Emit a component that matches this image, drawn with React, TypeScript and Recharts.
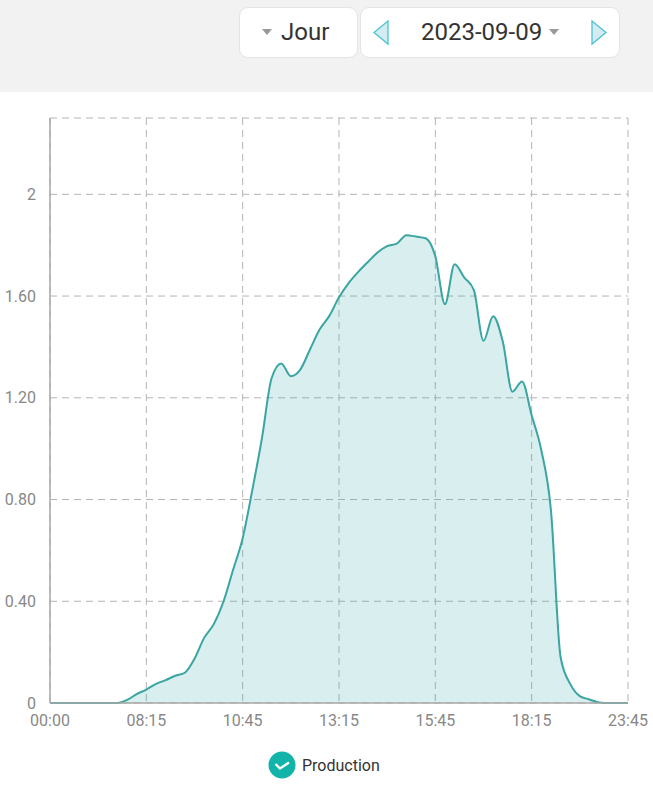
import React from 'react';
import { AreaChart, Area, XAxis, YAxis, CartesianGrid, Legend } from 'recharts';

const TIMES = [
  '00:00', '06:00', '06:15', '06:30', '06:45', '07:00', '07:15', '07:30', '07:45', '08:00',
  '08:15', '08:30', '08:45', '09:00', '09:15', '09:30', '09:45', '10:00', '10:15', '10:30',
  '10:45', '11:00', '11:15', '11:30', '11:45', '12:00', '12:15', '12:30', '12:45', '13:00',
  '13:15', '13:30', '13:45', '14:00', '14:15', '14:30', '14:45', '15:00', '15:15', '15:30',
  '15:45', '16:00', '16:15', '16:30', '16:45', '17:00', '17:15', '17:30', '17:45', '18:00',
  '18:15', '18:30', '18:45', '19:00', '19:15', '19:30', '19:45', '20:00', '20:15', '20:30',
  '23:45',
];

const PRODUCTION = [
  0, 0, 0, 0, 0, 0, 0, 0, 0.012, 0.035,
  0.053, 0.075, 0.09, 0.107, 0.119, 0.174, 0.256, 0.31, 0.398, 0.523,
  0.648, 0.837, 1.041, 1.277, 1.335, 1.285, 1.312, 1.391, 1.469, 1.522,
  1.595, 1.651, 1.695, 1.734, 1.771, 1.796, 1.806, 1.839, 1.834, 1.827,
  1.756, 1.568, 1.725, 1.673, 1.623, 1.424, 1.521, 1.421, 1.224, 1.264,
  1.131, 0.994, 0.758, 0.181, 0.075, 0.027, 0.014, 0.002, 0, 0,
  0,
];

const Y_TICKS = [0, 0.4, 0.8, 1.2, 1.6, 2];
const Y_LABELS = ['0', '0.40', '0.80', '1.20', '1.60', '2'];

const FONT = 'Roboto, sans-serif';

const chartData = TIMES.map((time, i) => ({ time, production: PRODUCTION[i] }));

const box: React.CSSProperties = {
  position: 'absolute',
  top: 7,
  height: 49,
  background: '#fff',
  border: '1px solid #e4e4e4',
  borderRadius: 9,
  fontFamily: FONT,
  fontSize: 24,
  color: '#333',
};

const Caret = ({ x }: { x: number }) => (
  <svg style={{ position: 'absolute', left: x, top: 20 }} width="12" height="8">
    <path d="M1 1 L11 1 L6 7 Z" fill="#999" />
  </svg>
);

const Arrow = ({ x, right }: { x: number; right?: boolean }) => (
  <svg style={{ position: 'absolute', left: x, top: 11 }} width="18" height="27">
    <path
      d={right ? 'M2 2 L16 13.5 L2 25 Z' : 'M16 2 L2 13.5 L16 25 Z'}
      fill="#d3ebf1"
      stroke="#4cc3d3"
      strokeWidth="1.3"
    />
  </svg>
);

const ProductionLegend = () => (
  <div style={{ display: 'flex', alignItems: 'center', height: 30, paddingLeft: 268, fontFamily: FONT }}>
    <svg width="28" height="28">
      <circle cx="14" cy="14" r="13.5" fill="#12b3a8" />
      <path d="M7.5 13 L12 17.5 L21 11.5" fill="none" stroke="#fff" strokeWidth="2.4" />
    </svg>
    <span style={{ marginLeft: 6, fontSize: 16, color: '#333' }}>Production</span>
  </div>
);

export default function App() {
  return (
    <div style={{ position: 'absolute', left: 0, top: 0, width: 653, height: 800, background: '#fff', overflow: 'hidden' }}>
      <div style={{ position: 'absolute', left: 0, top: 0, width: 653, height: 92, background: '#f2f2f2' }}>
        <div style={{ ...box, left: 239, width: 117 }}>
          <Caret x={21} />
          <span style={{ position: 'absolute', left: 41, top: 10 }}>Jour</span>
        </div>
        <div style={{ ...box, left: 360, width: 258 }}>
          <Arrow x={11} />
          <span style={{ position: 'absolute', left: 60, top: 10 }}>2023-09-09</span>
          <Caret x={187} />
          <Arrow x={229} right />
        </div>
      </div>
      <div style={{ position: 'absolute', left: 0, top: 92 }}>
        <AreaChart
          width={653}
          height={708}
          data={chartData}
          margin={{ top: 26, right: 25, left: 0, bottom: 20 }}
        >
          <CartesianGrid stroke="#b4b4b4" strokeDasharray="7 5" strokeWidth={1} />
          <XAxis
            dataKey="time"
            interval={9}
            height={47}
            tickLine={false}
            tickMargin={6}
            axisLine={{ stroke: '#a8a8a8', strokeWidth: 1.5 }}
            tick={{ fontSize: 16, fill: '#888', fontFamily: FONT }}
          />
          <YAxis
            width={50}
            domain={[0, 2.3]}
            ticks={Y_TICKS}
            interval={0}
            tickLine={false}
            tickMargin={8}
            tickFormatter={(v: number) => Y_LABELS[Y_TICKS.indexOf(v)]}
            axisLine={{ stroke: '#a8a8a8', strokeWidth: 1.5 }}
            tick={{ fontSize: 16, fill: '#888', fontFamily: FONT }}
          />
          <Legend verticalAlign="bottom" content={<ProductionLegend />} />
          <Area
            type="monotone"
            dataKey="production"
            name="Production"
            stroke="#3aa5a1"
            strokeWidth={2}
            fill="#2fa3a8"
            fillOpacity={0.19}
            dot={false}
            activeDot={false}
            isAnimationActive={false}
          />
        </AreaChart>
      </div>
    </div>
  );
}
